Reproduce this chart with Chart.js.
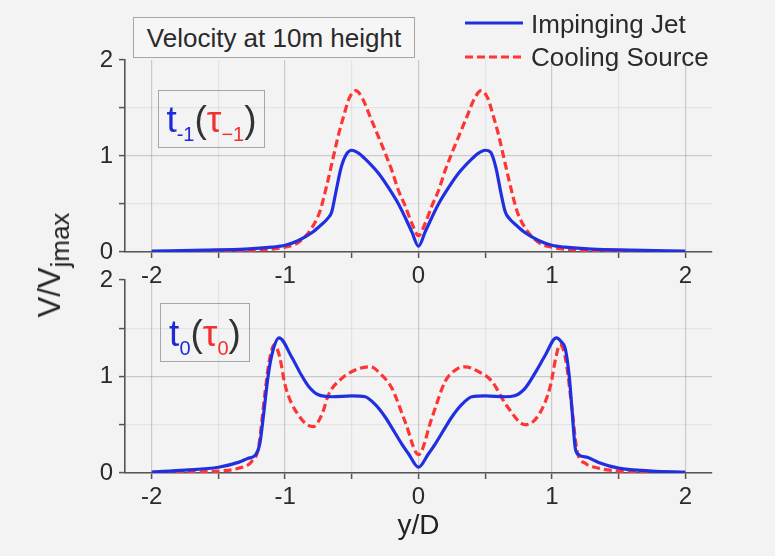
<!DOCTYPE html>
<html><head><meta charset="utf-8">
<script src="https://cdn.jsdelivr.net/npm/chart.js@4.4.1/dist/chart.umd.min.js"></script>
<style>
body{margin:0;background:#f3f3f3;}
#wrap{position:relative;width:775px;height:556px;overflow:hidden;background:#f3f3f3;font-family:"Liberation Sans",Arial,sans-serif;color:#222;}
canvas{position:absolute;left:0;top:0;}
.box{position:absolute;border:1.5px solid #a6a6a6;box-sizing:border-box;z-index:3;}
.abs{position:absolute;white-space:nowrap;z-index:3;}
.ins{position:absolute;left:0;right:0;top:50%;transform:translateY(-50%);text-align:center;white-space:nowrap;font-size:37px;line-height:1;}
.ins .b{color:#1f2ad6;}
.ins .r{color:#f23030;}
.ins .g{color:#333;}
.ins sub{font-size:20px;vertical-align:-0.45em;line-height:0;}
</style></head>
<body>
<div id="wrap">
<canvas id="c1" width="775" height="556"></canvas>
<canvas id="c2" width="775" height="556"></canvas>

<div class="box" style="left:133px;top:17px;width:282px;height:41px;background:#f6f6f6;">
  <div class="abs" style="left:0;right:0;top:50%;transform:translateY(-50%);text-align:center;font-size:26px;color:#2a2a2a;">Velocity at 10m height</div>
</div>

<svg class="abs" style="left:460px;top:8px;" width="70" height="64">
  <line x1="5" y1="15" x2="63" y2="15" stroke="#2030e0" stroke-width="3.2"/>
  <line x1="5" y1="49" x2="63" y2="49" stroke="#ff3535" stroke-width="3.2" stroke-dasharray="8 4"/>
</svg>
<div class="abs" style="left:531px;top:9px;font-size:26px;color:#2a2a2a;">Impinging Jet</div>
<div class="abs" style="left:531px;top:42px;font-size:26px;color:#2a2a2a;">Cooling Source</div>

<div class="box" style="left:158px;top:90px;width:107px;height:58px;">
  <div class="ins"><span class="b">t</span><sub class="b">-1</sub><span class="g">(</span><span class="r">τ</span><sub class="r">−1</sub><span class="g">)</span></div>
</div>
<div class="box" style="left:160px;top:303px;width:90px;height:59px;">
  <div class="ins"><span class="b">t</span><sub class="b">0</sub><span class="g">(</span><span class="r">τ</span><sub class="r">0</sub><span class="g">)</span></div>
</div>

<div class="abs" style="left:50px;top:265px;transform:translate(-50%,-50%) rotate(-90deg);font-size:31px;color:#222;">V/V<sub style="font-size:26px;vertical-align:-0.35em;line-height:0;">jmax</sub></div>
</div>

<script>
// ---- data ----
const xTicks = [-2, -1.5, -1, -0.5, 0, 0.5, 1, 1.5, 2];
const xLabelValues = [-2, -1, 0, 1, 2];
const yTicks = [0, 0.5, 1, 1.5, 2];
const yLabelValues = [0, 1, 2];
const seriesNames = ['Impinging Jet', 'Cooling Source'];

// top panel  t-1
const xJetTop = [-2, -1.6, -1.3, -1.1, -1.0, -0.9, -0.8, -0.74, -0.68, -0.65, -0.62, -0.58, -0.54, -0.5, -0.45, -0.4, -0.3, -0.225, -0.15, -0.1, -0.05, 0, 0.05, 0.1, 0.15, 0.225, 0.3, 0.4, 0.45, 0.5, 0.54, 0.58, 0.62, 0.65, 0.68, 0.74, 0.8, 0.9, 1.0, 1.1, 1.3, 1.6, 2];
const yJetTop = [0.01, 0.02, 0.03, 0.05, 0.07, 0.12, 0.2, 0.27, 0.35, 0.42, 0.62, 0.88, 1.02, 1.06, 1.03, 0.97, 0.82, 0.67, 0.5, 0.36, 0.21, 0.06, 0.21, 0.36, 0.5, 0.67, 0.82, 0.97, 1.03, 1.06, 1.04, 0.88, 0.6, 0.42, 0.35, 0.27, 0.2, 0.12, 0.07, 0.05, 0.03, 0.02, 0.01];
const xCoolTop = [-2, -1.5, -1.2, -1.0, -0.9, -0.8, -0.74, -0.69, -0.64, -0.6, -0.56, -0.52, -0.47, -0.42, -0.36, -0.3, -0.25, -0.2, -0.15, -0.1, -0.05, 0, 0.05, 0.1, 0.15, 0.2, 0.25, 0.3, 0.36, 0.42, 0.47, 0.52, 0.56, 0.6, 0.64, 0.69, 0.74, 0.8, 0.9, 1.0, 1.2, 1.5, 2];
const yCoolTop = [0.0, 0.01, 0.02, 0.05, 0.1, 0.25, 0.42, 0.68, 0.98, 1.22, 1.42, 1.6, 1.68, 1.6, 1.4, 1.2, 1.03, 0.85, 0.64, 0.48, 0.3, 0.17, 0.3, 0.48, 0.64, 0.85, 1.03, 1.2, 1.4, 1.6, 1.68, 1.6, 1.42, 1.22, 0.98, 0.68, 0.42, 0.25, 0.1, 0.05, 0.02, 0.01, 0.0];

// bottom panel  t0
const xJetBot = [-2, -1.75, -1.5, -1.35, -1.28, -1.22, -1.19, -1.16, -1.13, -1.1, -1.045, -0.95, -0.88, -0.825, -0.75, -0.65, -0.5, -0.4, -0.325, -0.25, -0.2, -0.125, -0.075, 0, 0.075, 0.125, 0.2, 0.25, 0.325, 0.4, 0.5, 0.65, 0.72, 0.8, 0.88, 0.95, 1.033, 1.07, 1.1, 1.13, 1.15, 1.175, 1.2, 1.27, 1.35, 1.5, 1.75, 2];
const yJetBot = [0.01, 0.03, 0.06, 0.11, 0.15, 0.19, 0.3, 0.62, 0.98, 1.22, 1.40, 1.2, 1.02, 0.9, 0.81, 0.79, 0.8, 0.79, 0.71, 0.58, 0.47, 0.3, 0.2, 0.06, 0.2, 0.3, 0.47, 0.58, 0.71, 0.79, 0.8, 0.79, 0.8, 0.88, 1.05, 1.22, 1.40, 1.36, 1.29, 1.0, 0.67, 0.26, 0.19, 0.16, 0.11, 0.05, 0.02, 0.01];
const xCoolBot = [-2, -1.75, -1.5, -1.35, -1.25, -1.2, -1.15, -1.12, -1.08, -1.04, -1.0, -0.9, -0.79, -0.72, -0.675, -0.575, -0.45, -0.36, -0.28, -0.2, -0.1, 0, 0.1, 0.2, 0.28, 0.35, 0.45, 0.55, 0.66, 0.8, 0.9, 0.99, 1.03, 1.06, 1.08, 1.11, 1.15, 1.19, 1.25, 1.35, 1.5, 1.75, 2];
const yCoolBot = [0.0, 0.01, 0.02, 0.05, 0.12, 0.26, 0.84, 1.15, 1.33, 1.2, 0.91, 0.6, 0.48, 0.62, 0.81, 0.98, 1.08, 1.1, 1.02, 0.88, 0.53, 0.19, 0.57, 0.95, 1.07, 1.1, 1.05, 0.95, 0.7, 0.5, 0.6, 0.91, 1.2, 1.33, 1.3, 1.12, 0.67, 0.22, 0.1, 0.05, 0.02, 0.01, 0.0];

// ---- chart ----
const FONT = '"Liberation Sans", Arial, sans-serif';
const pts = (xs, ys) => xs.map((x, i) => ({x: x, y: ys[i]}));

function gridX(ctx) {
  const v = ctx.tick ? ctx.tick.value : 0;
  return Number.isInteger(v) ? 'rgba(0,0,0,0.17)' : 'rgba(0,0,0,0.06)';
}
function gridY(ctx) {
  const v = ctx.tick ? ctx.tick.value : 0;
  if (v === 2) return 'rgba(0,0,0,0)';
  return Number.isInteger(v) ? 'rgba(0,0,0,0.17)' : 'rgba(0,0,0,0.06)';
}

function makeChart(id, xJ, yJ, xC, yC, padTop, padBottom, xAxisH, showXTitle) {
  return new Chart(document.getElementById(id), {
    type: 'line',
    data: {
      datasets: [
        {label: seriesNames[0], data: pts(xJ, yJ), borderColor: '#2030e0', borderWidth: 3.2,
         pointRadius: 0, cubicInterpolationMode: 'monotone', fill: false, order: 1},
        {label: seriesNames[1], data: pts(xC, yC), borderColor: '#ff3535', borderWidth: 3.2,
         borderDash: [8, 4], pointRadius: 0, cubicInterpolationMode: 'monotone', fill: false, order: 2}
      ]
    },
    options: {
      responsive: false, animation: false,
      layout: {padding: {left: 0, right: 63, top: padTop, bottom: padBottom}},
      plugins: {legend: {display: false}, tooltip: {enabled: false}},
      scales: {
        x: {
          type: 'linear', min: -2.2, max: 2.2,
          afterBuildTicks: a => { a.ticks = xTicks.map(v => ({value: v})); },
          afterFit: s => { s.height = xAxisH; },
          ticks: {autoSkip: false, maxRotation: 0, padding: 4, color: '#2a2a2a',
                  font: {size: 24, family: FONT},
                  callback: v => xLabelValues.includes(v) ? String(v) : ''},
          grid: {color: gridX, lineWidth: 1.2, tickLength: 6, tickColor: '#555', tickWidth: 1.5},
          border: {color: '#555', width: 1.6},
          title: {display: showXTitle, text: 'y/D', color: '#222', padding: 0,
                  font: {size: 28, family: FONT}}
        },
        y: {
          min: 0, max: 2,
          afterBuildTicks: a => { a.ticks = yTicks.map(v => ({value: v})); },
          afterFit: s => { s.width = 125; },
          ticks: {autoSkip: false, padding: 6, color: '#2a2a2a',
                  font: {size: 24, family: FONT},
                  callback: v => yLabelValues.includes(v) ? String(v) : ''},
          grid: {color: gridY, lineWidth: 1.2, tickLength: 6, tickColor: '#555', tickWidth: 1.5},
          border: {color: '#555', width: 1.6}
        }
      }
    }
  });
}

// top: chart area y 60..252 ; bottom: 280..473 ; x 125..712
makeChart('c1', xJetTop, yJetTop, xCoolTop, yCoolTop, 60, 556 - 252 - 40, 40, false);
makeChart('c2', xJetBot, yJetBot, xCoolBot, yCoolBot, 280, 556 - 473 - 70, 70, true);
</script>
</body></html>
